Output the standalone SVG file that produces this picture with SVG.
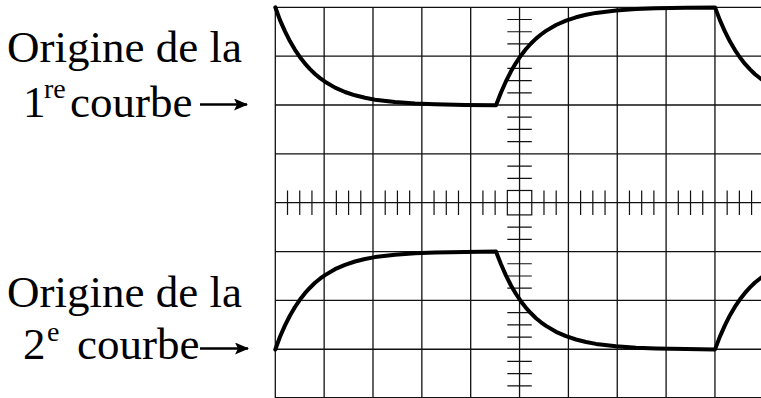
<svg xmlns="http://www.w3.org/2000/svg" width="761" height="398" viewBox="0 0 761 398">
<style>
.grid{stroke:#111;stroke-width:1.3;fill:none}
.tick{stroke:#111;stroke-width:1.2;fill:none}
.curve{stroke:#000;stroke-width:4;fill:none;stroke-linejoin:round;stroke-linecap:round}
.lbl{font-family:"Liberation Serif","Times New Roman",serif;font-size:45px;fill:#000}
.sup{font-family:"Liberation Serif","Times New Roman",serif;font-size:28px;fill:#000}
.arr{stroke:#000;stroke-width:2.4;fill:none}
</style>
<defs>
<marker id="ah" viewBox="0 0 14 12" refX="13" refY="6" markerWidth="14" markerHeight="12" markerUnits="userSpaceOnUse" orient="auto">
<path d="M0,0 L14,6 L0,12 L3,6 Z" fill="#000"/>
</marker>
<path id="trace" d="M275.3,7.3 L280,20.1 L285,31.4 L290,41.3 L295,49.8 L300,57.2 L305,63.6 L310,69.1 L315,74 L320,78.1 L325,81.7 L335,87.6 L345,92 L355,95.3 L365,97.8 L375,99.7 L395,102.1 L415,103.5 L435,104.3 L465,104.9 L496,105.2 L501,92.5 L506,81.2 L511,71.3 L516,62.8 L521,55.4 L526,49 L531,43.5 L536,38.6 L541,34.5 L546,30.9 L556,25 L566,20.6 L576,17.3 L586,14.8 L596,12.9 L616,10.5 L636,9.1 L656,8.3 L686,7.7 L715,7.4 L720,20.4 L725,31.7 L730,41.6 L735,50.1 L740,57.5 L745,63.9 L750,69.4 L755,74.3 L762,79.8"/>
</defs>
<g id="grid">
<path class="grid" d="M275.3,7.3V398 M324.15,7.3V398 M373,7.3V398 M421.85,7.3V398 M470.7,7.3V398 M519.55,7.3V398 M568.4,7.3V398 M617.25,7.3V398 M666.1,7.3V398 M714.95,7.3V398 M275.3,7.3H761 M275.3,56.15H761 M275.3,105H761 M275.3,153.85H761 M275.3,202.7H761 M275.3,251.55H761 M275.3,300.4H761 M275.3,349.25H761 M275.3,397.6H761"/>
</g>
<g id="axis-ticks">
<path class="tick" d="M287.51,190.49V214.91 M299.73,190.49V214.91 M311.94,190.49V214.91 M336.36,190.49V214.91 M348.58,190.49V214.91 M360.79,190.49V214.91 M385.21,190.49V214.91 M397.43,190.49V214.91 M409.64,190.49V214.91 M434.06,190.49V214.91 M446.28,190.49V214.91 M458.49,190.49V214.91 M482.91,190.49V214.91 M495.13,190.49V214.91 M543.98,190.49V214.91 M556.19,190.49V214.91 M580.61,190.49V214.91 M592.83,190.49V214.91 M605.04,190.49V214.91 M629.46,190.49V214.91 M641.68,190.49V214.91 M653.89,190.49V214.91 M678.31,190.49V214.91 M690.53,190.49V214.91 M702.74,190.49V214.91 M727.16,190.49V214.91 M739.38,190.49V214.91 M751.59,190.49V214.91"/>
<path class="tick" d="M507.34,19.51H531.76 M507.34,31.73H531.76 M507.34,43.94H531.76 M507.34,68.36H531.76 M507.34,80.58H531.76 M507.34,92.79H531.76 M507.34,117.21H531.76 M507.34,129.43H531.76 M507.34,141.64H531.76 M507.34,166.06H531.76 M507.34,178.28H531.76 M507.34,227.13H531.76 M507.34,239.34H531.76 M507.34,263.76H531.76 M507.34,275.98H531.76 M507.34,288.19H531.76 M507.34,312.61H531.76 M507.34,324.83H531.76 M507.34,337.04H531.76 M507.34,361.46H531.76 M507.34,373.68H531.76 M507.34,385.89H531.76"/>
<rect class="tick" x="507.34" y="190.49" width="24.42" height="24.42"/>
</g>
<g id="curves">
<use href="#trace" class="curve"/>
<use href="#trace" class="curve" transform="translate(0,356.8) scale(1,-1)"/>
</g>
<g id="label-1">
<text class="lbl" x="7" y="62">Origine de la</text>
<text class="lbl" x="23" y="117">1</text>
<text class="sup" x="44" y="98">re</text>
<text class="lbl" x="70" y="117">courbe</text>
</g>
<g id="label-2">
<text class="lbl" x="7" y="307">Origine de la</text>
<text class="lbl" x="23" y="359">2</text>
<text class="sup" x="47" y="341">e</text>
<text class="lbl" x="77" y="359">courbe</text>
</g>
<g id="connectors">
<path class="arr" d="M200,104.5 H247" marker-end="url(#ah)"/>
<path class="arr" d="M200,348.5 H248" marker-end="url(#ah)"/>
</g>
</svg>
